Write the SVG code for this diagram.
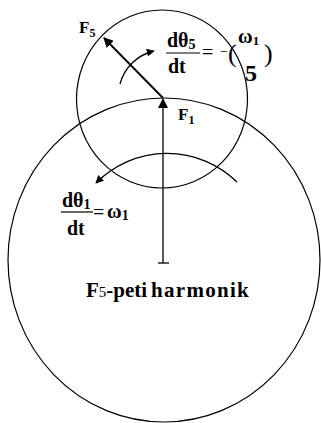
<svg xmlns="http://www.w3.org/2000/svg" width="321" height="423" viewBox="0 0 321 423">
<defs>
<style>
.c{fill:none;stroke:#000;stroke-width:1.2}
.l{fill:none;stroke:#000;stroke-width:1.3}
.a{fill:none;stroke:#000;stroke-width:1.8}
.t{font-family:'Liberation Serif','Times New Roman',serif;font-weight:bold;fill:#000}
.n{font-family:'Liberation Serif','Times New Roman',serif;fill:#000}
</style>
<marker id="ah" viewBox="0 0 10 10" refX="9" refY="5" markerWidth="10" markerHeight="10" markerUnits="userSpaceOnUse" orient="auto">
<path d="M0,0 L10,5 L0,10 Z" fill="#000"/>
</marker>
<marker id="ah2" viewBox="0 0 10 10" refX="9" refY="5" markerWidth="8" markerHeight="8" markerUnits="userSpaceOnUse" orient="auto">
<path d="M0,0 L10,5 L0,10 Z" fill="#000"/>
</marker>
</defs>
<rect width="321" height="423" fill="#fff"/>
<g id="big-circle">
<ellipse class="c" cx="164" cy="260" rx="156" ry="162"/>
</g>
<g id="small-circle">
<ellipse class="c" cx="162" cy="99" rx="85.5" ry="89"/>
</g>
<g id="connectors">
<line class="l" x1="163" y1="263" x2="163" y2="99" marker-end="url(#ah)"/>
<line class="l" x1="158" y1="263" x2="169" y2="263"/>
<line class="a" x1="163" y1="98" x2="104" y2="38" marker-end="url(#ah)"/>
<path class="l" d="M120,84 A46,46 0 0,1 154,51" marker-end="url(#ah2)"/>
<path class="l" d="M237,182 A100,100 0 0,0 96,183" marker-end="url(#ah2)"/>
</g>
<g id="label-F5">
<text class="t" x="79" y="33" font-size="17">F<tspan font-size="12" dy="4">5</tspan></text>
</g>
<g id="label-F1">
<text class="t" x="178" y="120" font-size="17">F<tspan font-size="12" dy="4">1</tspan></text>
</g>
<g id="eq-theta5">
<text class="t" x="167" y="47" font-size="20">dθ<tspan font-size="14" dy="2">5</tspan></text>
<line x1="166" y1="53" x2="200" y2="53" stroke="#000" stroke-width="1.2"/>
<text class="t" x="168" y="73" font-size="20">dt</text>
<text class="n" x="202" y="59" font-size="20">=</text>
<text class="n" x="220" y="56" font-size="14">−</text>
<text class="n" x="228" y="62" font-size="26">(</text>
<text class="t" x="238" y="43" font-size="20">ω<tspan font-size="13" dy="2">1</tspan></text>
<text class="t" x="245" y="81" font-size="24">5</text>
<text class="n" x="264" y="62" font-size="26">)</text>
</g>
<g id="eq-theta1">
<text class="t" x="62" y="207" font-size="20">dθ<tspan font-size="14" dy="2">1</tspan></text>
<line x1="61" y1="212" x2="93" y2="212" stroke="#000" stroke-width="1.2"/>
<text class="t" x="67" y="235" font-size="20">dt</text>
<text class="n" x="93" y="219" font-size="20">=</text>
<text class="t" x="107" y="218" font-size="20">ω<tspan font-size="14" dy="2">1</tspan></text>
</g>
<g id="title">
<text class="t" x="86" y="297" font-size="21">F<tspan font-size="15" font-weight="normal">5</tspan>-peti<tspan x="151" letter-spacing="1.3">harmonik</tspan></text>
</g>
</svg>
